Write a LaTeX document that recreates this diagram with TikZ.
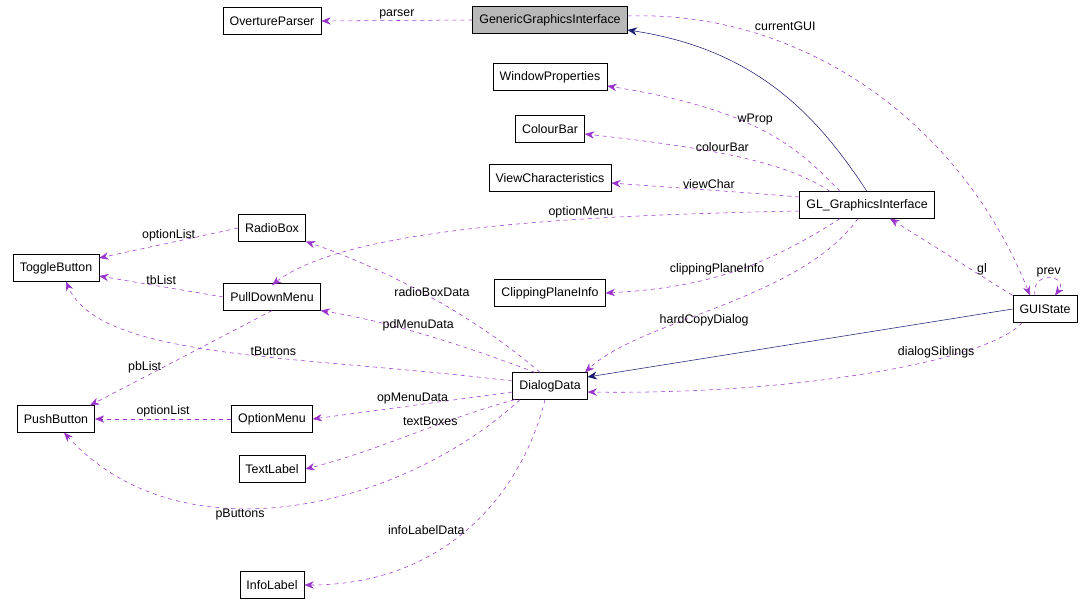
\documentclass[tikz,border=0pt]{standalone}
\usepackage{fontspec}
\setmainfont{Liberation Sans}
\usetikzlibrary{arrows.meta}
\definecolor{edgepurple}{HTML}{9A32CD}
\definecolor{edgenavy}{HTML}{191970}
\tikzset{
  cls/.style={draw, fill=white, inner xsep=5pt, minimum height=20pt, font=\fontsize{9.3}{11}\selectfont},
  use/.style={color=edgepurple, dashed, -{Stealth[length=7pt,width=5.5pt]}},
  inh/.style={color=edgenavy, -{Stealth[length=7pt,width=6pt]}},
  lbl/.style={text=black, font=\fontsize{9.3}{11}\selectfont, inner sep=1pt}
}
\begin{document}
\begin{tikzpicture}[x=0.75pt,y=-0.75pt]
\useasboundingbox (0,0) rectangle (1088,604);
% classes
\node[cls] (op) at (272,21) {OvertureParser};
\node[cls, fill=black!28] (ggi) at (550,20) {GenericGraphicsInterface};
\node[cls] (wp) at (550,77) {WindowProperties};
\node[cls] (cb) at (550,129) {ColourBar};
\node[cls] (vc) at (550,178) {ViewCharacteristics};
\node[cls] (gl) at (867,205) {GL\_GraphicsInterface};
\node[cls] (rb) at (272,228) {RadioBox};
\node[cls] (tb) at (56,268) {ToggleButton};
\node[cls] (pdm) at (272,297) {PullDownMenu};
\node[cls] (cpi) at (550,293) {ClippingPlaneInfo};
\node[cls] (gui) at (1045,309) {GUIState};
\node[cls] (dd) at (550,386) {DialogData};
\node[cls] (pb) at (56,419) {PushButton};
\node[cls] (om) at (272,419) {OptionMenu};
\node[cls] (tl) at (272,469) {TextLabel};
\node[cls] (il) at (272,585) {InfoLabel};
% inheritance
\draw[inh] (gl.north) .. controls (820,120) and (760,50) .. (ggi.east |- 0,30);
\draw[inh] (gui.west) -- (dd.east |- 0,377);
% usage
\draw[use] (ggi.west) -- node[lbl, above] {parser} (op.east);
\draw[use] (ggi.east |- 0,16) .. controls (800,10) and (960,120) .. node[lbl, pos=0.25, above right] {currentGUI} (gui.north west -| 1030,0);
\draw[use] (gl.north west -| 840,0) .. controls (800,150) and (760,110) .. node[lbl, pos=0.55, above] {wProp} (wp.east |- 0,86);
\draw[use] (gl.north west -| 830,0) .. controls (790,165) and (730,150) .. node[lbl, pos=0.6, above] {colourBar} (cb.east |- 0,134);
\draw[use] (gl.west |- 0,197) .. controls (740,192) and (680,188) .. node[lbl, pos=0.5, above] {viewChar} (vc.east |- 0,183);
\draw[use] (gl.west |- 0,211) .. controls (600,215) and (350,225) .. node[lbl, pos=0.35, above] {optionMenu} (pdm.north |- 0,285) ;
\draw[use] (gl.south west -| 840,0) .. controls (760,270) and (700,288) .. node[lbl, pos=0.55, above] {clippingPlaneInfo} (cpi.east);
\draw[use] (gl.south -| 858,0) .. controls (800,300) and (640,320) .. node[lbl, pos=0.55, below] {hardCopyDialog} (dd.north east -| 585,0);
\draw[use] (gui.north west) -- node[lbl, pos=0.25, above] {gl} (gl.south -| 890,0);
\draw[use] (gui.north -| 1035,0) .. controls (1030,270) and (1070,275) .. node[lbl, above, pos=0.5] {prev} (gui.north -| 1055,0);
\draw[use] (gui.south west -| 1022,0) .. controls (990,360) and (800,395) .. node[lbl, pos=0.35, above] {dialogSiblings} (dd.east |- 0,392);
\draw[use] (rb.west) -- node[lbl, above] {optionList} (tb.east |- 0,258);
\draw[use] (pdm.west) -- node[lbl, above] {tbList} (tb.east |- 0,276);
\draw[use] (pdm.south) -- node[lbl, pos=0.6, left] {pbList} (pb.north east -| 90,0);
\draw[use] (dd.north -| 540,0) .. controls (480,320) and (390,270) .. node[lbl, pos=0.5, above] {radioBoxData} (rb.south east);
\draw[use] (dd.north -| 535,0) .. controls (450,340) and (380,320) .. node[lbl, pos=0.5, above] {pdMenuData} (pdm.south east);
\draw[use] (dd.west |- 0,381) .. controls (300,355) and (100,360) .. node[lbl, pos=0.4, above] {tButtons} (tb.south -| 66,0);
\draw[use] (dd.west |- 0,392) -- node[lbl, above] {opMenuData} (om.east);
\draw[use] (om.west) -- node[lbl, above] {optionList} (pb.east);
\draw[use] (dd.south west -| 515,0) .. controls (440,420) and (380,450) .. node[lbl, pos=0.4, above] {textBoxes} (tl.east);
\draw[use] (dd.south west -| 520,0) .. controls (400,510) and (180,560) .. node[lbl, pos=0.6, below] {pButtons} (pb.south -| 64,0);
\draw[use] (dd.south -| 545,0) .. controls (520,500) and (440,585) .. node[lbl, pos=0.5, left] {infoLabelData} (il.east);
\end{tikzpicture}
\end{document}
